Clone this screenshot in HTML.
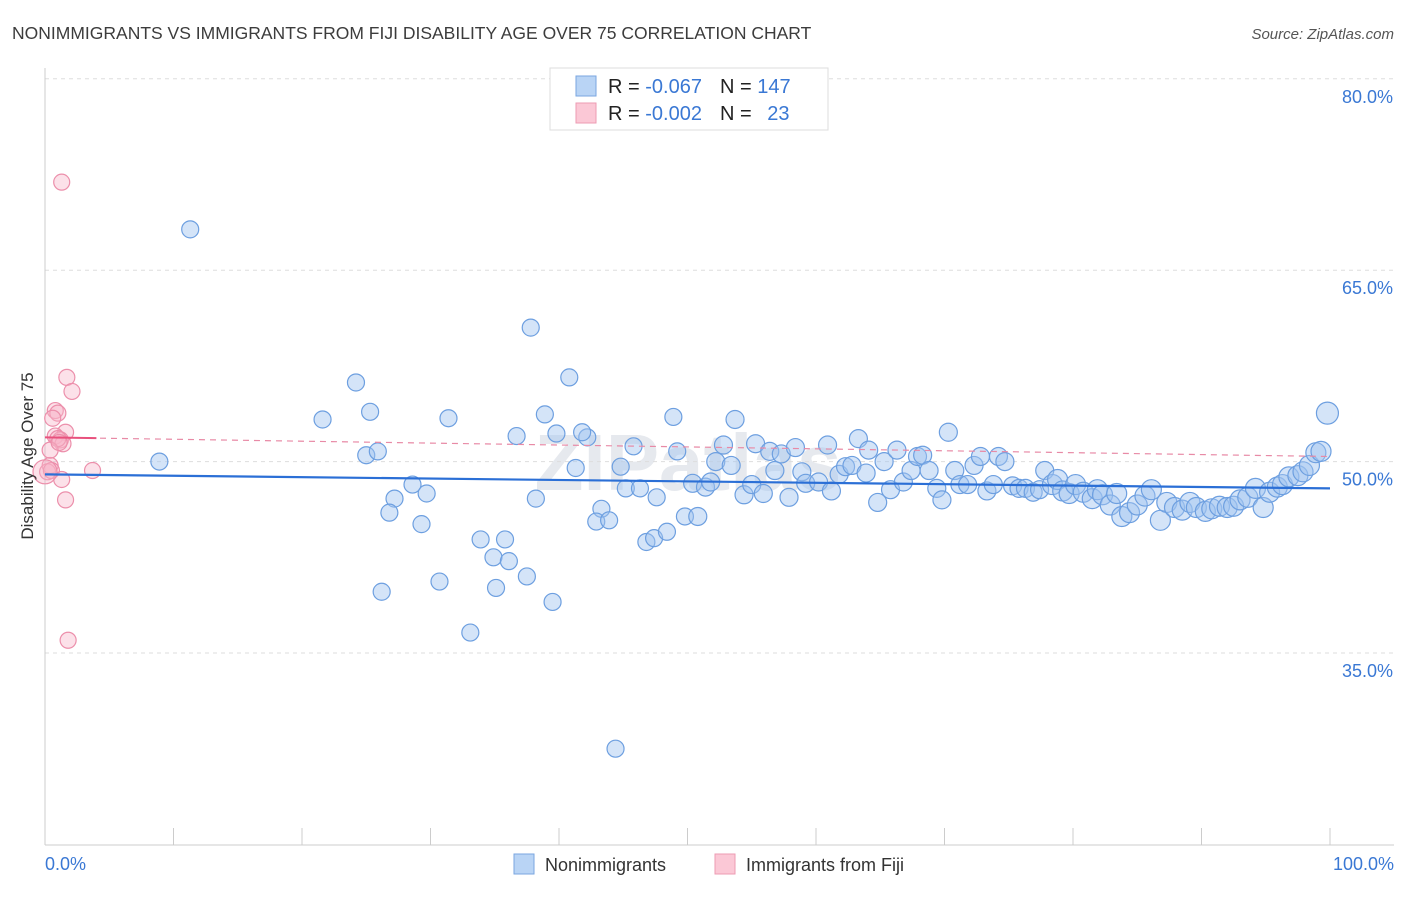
<!DOCTYPE html>
<html><head><meta charset="utf-8"><style>
body{margin:0;background:#fff;font-family:"Liberation Sans",sans-serif;}
svg text{font-family:"Liberation Sans",sans-serif;}
</style></head><body>
<svg id="chart" width="1406" height="892" viewBox="0 0 1406 892" xmlns="http://www.w3.org/2000/svg">
<text x="12" y="39" font-size="17.5" fill="#3c3c3c">NONIMMIGRANTS VS IMMIGRANTS FROM FIJI DISABILITY AGE OVER 75 CORRELATION CHART</text>
<text x="1394" y="39" font-size="15" fill="#555" text-anchor="end" font-style="italic">Source: ZipAtlas.com</text>
<text x="688" y="490" font-size="80" fill="#e6e9ee" text-anchor="middle" font-family="Liberation Serif" font-weight="bold">ZIPatlas</text>
<g id="grid"></g>
<g id="axes"></g>
<g id="pts"></g>
<g id="trend"></g>
<text transform="translate(33,456) rotate(-90)" font-size="17" fill="#333" text-anchor="middle">Disability Age Over 75</text>
<g>
<rect x="550" y="68" width="278" height="62" fill="#fff" stroke="#ddd"/>
<rect x="576" y="76" width="20" height="20" fill="#b9d4f5" stroke="#7aa6e0"/>
<rect x="576" y="103" width="20" height="20" fill="#fbc8d6" stroke="#ee9bb3"/>
<text x="608" y="93" font-size="20" fill="#222">R = <tspan fill="#3a78d4">-0.067</tspan><tspan dx="18">N = </tspan><tspan fill="#3a78d4">147</tspan></text>
<text x="608" y="120" font-size="20" fill="#222">R = <tspan fill="#3a78d4">-0.002</tspan><tspan dx="18">N = </tspan><tspan fill="#3a78d4" dx="10">23</tspan></text>
</g>
<g>
<rect x="514" y="854" width="20" height="20" fill="#b9d4f5" stroke="#7aa6e0"/>
<text x="545" y="871" font-size="18" fill="#333">Nonimmigrants</text>
<rect x="715" y="854" width="20" height="20" fill="#fbc8d6" stroke="#ee9bb3"/>
<text x="746" y="871" font-size="18" fill="#333">Immigrants from Fiji</text>
</g>
</svg>
<script>
const yTicks=[35,50,65,80];
const yTickLabels=["35.0%","50.0%","65.0%","80.0%"];
const xTickLabels=["0.0%","100.0%"];
const blueX=[11.3,8.9,37.8,40.8,24.2,21.6,25.3,25.0,25.9,31.4,38.9,36.7,39.8,42.2,41.8,41.3,28.6,29.7,27.2,26.8,29.3,26.2,30.7,33.1,33.9,35.8,34.9,36.1,35.1,37.5,39.5,38.2,44.4,43.3,42.9,43.9,45.2,46.3,47.6,46.8,47.4,48.4,49.8,50.8,44.8,45.8,48.9,49.2,50.4,51.4,51.8,52.2,52.8,53.4,53.7,54.4,55.0,55.3,55.9,56.4,56.8,57.3,57.9,58.4,58.9,59.2,60.2,60.9,61.2,61.8,62.3,62.8,63.3,63.9,64.1,64.8,65.3,65.8,66.3,66.8,67.4,67.9,68.3,68.8,69.4,69.8,70.3,70.8,71.2,71.8,72.3,72.8,73.3,73.8,74.2,74.7,75.3,75.8,76.3,76.9,77.4,77.8,78.4,78.8,79.2,79.7,80.2,80.8,81.5,81.9,82.3,82.9,83.4,83.8,84.4,85.0,85.6,86.1,86.8,87.3,87.9,88.5,89.1,89.6,90.3,90.8,91.4,92.0,92.5,93.0,93.6,94.2,94.8,95.3,95.9,96.3,96.8,97.5,97.9,98.4,98.9,99.3,99.8];
const blueY=[68.2,50.0,60.5,56.6,56.2,53.3,53.9,50.5,50.8,53.4,53.7,52.0,52.2,51.9,52.3,49.5,48.2,47.5,47.1,46.0,45.1,39.8,40.6,36.6,43.9,43.9,42.5,42.2,40.1,41.0,39.0,47.1,27.5,46.3,45.3,45.4,47.9,47.9,47.2,43.7,44.0,44.5,45.7,45.7,49.6,51.2,53.5,50.8,48.3,48.0,48.4,50.0,51.3,49.7,53.3,47.4,48.2,51.4,47.5,50.8,49.3,50.6,47.2,51.1,49.2,48.3,48.4,51.3,47.7,49.0,49.6,49.7,51.8,49.1,50.9,46.8,50.0,47.8,50.9,48.4,49.3,50.4,50.5,49.3,47.9,47.0,52.3,49.3,48.2,48.2,49.7,50.4,47.7,48.2,50.4,50.0,48.1,47.9,47.9,47.6,47.8,49.3,48.2,48.6,47.7,47.5,48.2,47.6,47.1,47.8,47.4,46.6,47.5,45.7,46.0,46.6,47.3,47.8,45.4,46.8,46.4,46.2,46.8,46.4,46.1,46.3,46.5,46.4,46.5,47.0,47.2,47.9,46.4,47.6,48.0,48.2,48.8,48.9,49.2,49.7,50.7,50.8,53.8];
const pinkX=[1.3,1.7,2.1,0.8,1.0,0.6,1.6,0.8,1.2,1.4,1.0,0.4,0.2,0.5,3.7,1.3,1.6,1.8,0.0,0.4,1.1];
const pinkY=[71.9,56.6,55.5,54.0,53.8,53.4,52.3,52.0,51.7,51.4,51.8,49.7,49.2,49.3,49.3,48.6,47.0,36.0,49.2,50.9,51.5];
const blueTrend=[49.0,47.9];
const pinkTrend=[51.9,50.4];
const NS="http://www.w3.org/2000/svg";
const xs=v=>45+v*12.85;
const ys=v=>653-(v-35)*12.76;
function mk(tag,attrs,parent){const e=document.createElementNS(NS,tag);for(const k in attrs)e.setAttribute(k,attrs[k]);document.getElementById(parent).appendChild(e);return e;}
yTicks.forEach((t,i)=>{
 const g=mk('line',{x1:45,x2:1394,y1:ys(t),y2:ys(t),stroke:'#ddd','stroke-dasharray':'4,4'},'grid');
 
 
 const l=mk('text',{x:1393,y:ys(t)+24,'font-size':18,fill:'#3a78d4','text-anchor':'end'},'grid');
 l.textContent=yTickLabels[i];
 
 
});
const ax=mk('line',{x1:45,x2:45,y1:68,y2:845,stroke:'#ccc'},'axes');


const bx=mk('line',{x1:45,x2:1394,y1:845,y2:845,stroke:'#ccc'},'axes');


for(let i=0;i<=10;i++){
 const t=mk('line',{x1:xs(i*10),x2:xs(i*10),y1:828,y2:845,stroke:'#ccc'},'axes');
 
 
}
[[0,'start',45],[100,'end',1394]].forEach((a,i)=>{
 const l=mk('text',{x:a[2],y:870,'font-size':18,fill:'#3a78d4','text-anchor':a[1]},'axes');
 l.textContent=xTickLabels[i];
 
 
});
blueX.forEach((x,i)=>{
 const r=x>78?10:(x>50?9:8.5);
 const c=mk('circle',{cx:xs(x),cy:ys(blueY[i]),r:(i==blueX.length-1?11:r),fill:'rgba(160,196,240,0.45)',stroke:'#6d9fe0','stroke-width':1.2},'pts');
 
 
});
pinkX.forEach((x,i)=>{
 const c=mk('circle',{cx:xs(x),cy:ys(pinkY[i]),r:(x===0?12:8),fill:'rgba(248,180,200,0.4)',stroke:'#ec8fab','stroke-width':1.2},'pts');
 
 
});
const bt=mk('line',{x1:xs(0),x2:xs(100),y1:ys(blueTrend[0]),y2:ys(blueTrend[1]),stroke:'#2b6fd6','stroke-width':2.2},'trend');


const pd=mk('line',{x1:xs(0),x2:xs(100),y1:ys(pinkTrend[0]),y2:ys(pinkTrend[1]),stroke:'#e88aa6','stroke-width':1.2,'stroke-dasharray':'6,5'},'trend');


const pf=pinkTrend[0]+(pinkTrend[1]-pinkTrend[0])*0.04;
const ps=mk('line',{x1:xs(0),x2:xs(4),y1:ys(pinkTrend[0]),y2:ys(pf),stroke:'#e8517d','stroke-width':2},'trend');


</script>
</body></html>
